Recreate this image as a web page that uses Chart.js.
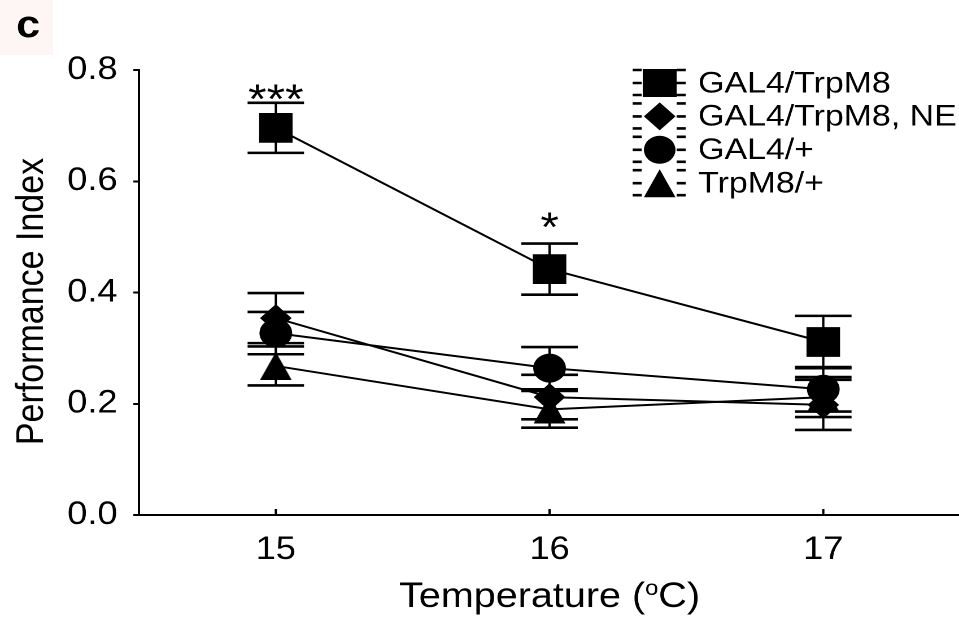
<!DOCTYPE html>
<html><head><meta charset="utf-8">
<script src="https://cdn.jsdelivr.net/npm/chart.js@4.4.1/dist/chart.umd.min.js"></script>
<style>
html,body{margin:0;padding:0;background:#fff;overflow:hidden;}
#wrap{width:959px;height:617px;overflow:hidden;position:relative;background:#fff;}
#c{position:absolute;left:0;top:0;transform-origin:0 0;transform:scaleX(1.1296);}
</style></head><body>
<div id="wrap"><canvas id="c" width="871" height="617"></canvas></div>
<script>
// ---- data ----
const temperatures = ['15', '16', '17'];
const seriesNames = ['GAL4/TrpM8', 'GAL4/TrpM8, NE', 'GAL4/+', 'TrpM8/+'];
const gal4TrpM8 = [0.696, 0.442, 0.311];
const gal4TrpM8Err = [0.045, 0.046, 0.047];
const gal4TrpM8NE = [0.354, 0.212, 0.198];
const gal4TrpM8NEErr = [0.045, 0.040, 0.045];
const gal4Plus = [0.327, 0.264, 0.226];
const gal4PlusErr = [0.038, 0.038, 0.040];
const trpM8Plus = [0.268, 0.190, 0.212];
const trpM8PlusErr = [0.035, 0.033, 0.036];
const yTicks = [0.0, 0.2, 0.4, 0.6, 0.8];
const sigMarks = ['***', '*', ''];
const sigLevels = [0.722, 0.492, 0];
const xTitle = ['Temperature (', 'o', 'C)'];
const yTitle = 'Performance Index';
const panelLabel = 'c';

const FONT = "'Liberation Sans', Arial, Helvetica, sans-serif";
Chart.defaults.font.family = FONT;
Chart.defaults.color = '#000';

function makeTriangle(w, h) {
  const s = 4;
  const c = document.createElement('canvas');
  c.width = w * s; c.height = h * s;
  const g = c.getContext('2d');
  g.fillStyle = '#000';
  g.beginPath();
  g.moveTo(c.width / 2, 0);
  g.lineTo(c.width, c.height);
  g.lineTo(0, c.height);
  g.closePath();
  g.fill();
  return new Promise(res => {
    const img = new Image(w, h);
    img.onload = () => res(img);
    img.src = c.toDataURL();
  });
}

const errors = [gal4TrpM8Err, gal4TrpM8NEErr, gal4PlusErr, trpM8PlusErr];

const extras = {
  id: 'extras',
  beforeDatasetsDraw(chart) {
    const ctx = chart.ctx, xs = chart.scales.x, ys = chart.scales.y;
    ctx.save();
    ctx.strokeStyle = '#000';
    chart.data.datasets.forEach((ds, di) => {
      ds.data.forEach((v, i) => {
        const e = errors[di][i];
        const x = xs.getPixelForValue(i);
        const yt = ys.getPixelForValue(v + e), yb = ys.getPixelForValue(v - e);
        ctx.lineWidth = 2;
        ctx.beginPath(); ctx.moveTo(x, yt); ctx.lineTo(x, yb); ctx.stroke();
        ctx.lineWidth = 2.6;
        ctx.beginPath();
        ctx.moveTo(x - 25, yt); ctx.lineTo(x + 25, yt);
        ctx.moveTo(x - 25, yb); ctx.lineTo(x + 25, yb);
        ctx.stroke();
      });
    });
    ctx.restore();
  },
  afterDatasetsDraw(chart) {
    const ctx = chart.ctx, xs = chart.scales.x, ys = chart.scales.y;
    ctx.save();
    // inward x ticks
    ctx.strokeStyle = '#000'; ctx.lineWidth = 2;
    temperatures.forEach((t, i) => {
      const x = xs.getPixelForValue(i);
      ctx.beginPath(); ctx.moveTo(x, ys.bottom); ctx.lineTo(x, ys.bottom - 6); ctx.stroke();
    });
    // significance marks
    ctx.fillStyle = '#000';
    ctx.font = '42px ' + FONT;
    ctx.textAlign = 'center'; ctx.textBaseline = 'alphabetic';
    sigMarks.forEach((m, i) => {
      if (!m) return;
      ctx.fillText(m, xs.getPixelForValue(i), ys.getPixelForValue(sigLevels[i]));
    });
    ctx.restore();
  },
  afterDraw(chart) {
    const ctx = chart.ctx, xs = chart.scales.x, ys = chart.scales.y;
    ctx.save();
    // panel label
    ctx.fillStyle = '#fdf6f4';
    ctx.fillRect(0, 0, 47, 55);
    ctx.fillStyle = '#000';
    ctx.font = 'bold 38px ' + FONT;
    ctx.textAlign = 'center'; ctx.textBaseline = 'alphabetic';
    ctx.fillText(panelLabel, 25, 37);
    // y title
    ctx.save();
    ctx.translate(38, (ys.top + ys.bottom) / 2 + 9);
    ctx.rotate(-Math.PI / 2);
    ctx.font = '34px ' + FONT;
    ctx.textAlign = 'center'; ctx.textBaseline = 'alphabetic';
    ctx.fillText(yTitle, 0, 0);
    ctx.restore();
    // x title with superscript
    ctx.font = '35px ' + FONT;
    const w1 = ctx.measureText(xTitle[0]).width;
    const w3 = ctx.measureText(xTitle[2]).width;
    ctx.font = '21px ' + FONT;
    const w2 = ctx.measureText(xTitle[1]).width;
    const total = w1 + w2 + w3;
    const cx = (xs.left + xs.right) / 2;
    let x0 = cx - total / 2;
    const base = 607;
    ctx.textAlign = 'left';
    ctx.font = '35px ' + FONT;
    ctx.fillText(xTitle[0], x0, base);
    ctx.font = '21px ' + FONT;
    ctx.fillText(xTitle[1], x0 + w1, base - 12);
    ctx.font = '35px ' + FONT;
    ctx.fillText(xTitle[2], x0 + w1 + w2, base);
    // legend
    const lx = 584, ly0 = 83, step = 33.4;
    ctx.font = '30px ' + FONT;
    ctx.textBaseline = 'middle';
    seriesNames.forEach((name, i) => {
      const y = ly0 + i * step;
      ctx.strokeStyle = '#000'; ctx.lineWidth = 2.6;
      ctx.beginPath();
      [-13, 0, 12].forEach(dy => {
        ctx.moveTo(560, y + dy); ctx.lineTo(568, y + dy);
        ctx.moveTo(599, y + dy); ctx.lineTo(607, y + dy);
      });
      ctx.stroke();
      ctx.fillStyle = '#000';
      ctx.beginPath();
      if (i === 0) {
        ctx.rect(lx - 15, y - 14, 30, 28);
      } else if (i === 1) {
        ctx.moveTo(lx - 14, y); ctx.lineTo(lx, y - 14); ctx.lineTo(lx + 14, y); ctx.lineTo(lx, y + 14); ctx.closePath();
      } else if (i === 2) {
        ctx.arc(lx, y, 14, 0, Math.PI * 2);
      } else {
        ctx.moveTo(lx, y - 14); ctx.lineTo(lx + 14, y + 14); ctx.lineTo(lx - 14, y + 14); ctx.closePath();
      }
      ctx.fill();
      ctx.fillText(name, 618, y + 1);
    });
    ctx.restore();
  }
};

makeTriangle(28, 28).then(tri => {
  const common = {borderColor: '#000', backgroundColor: '#000', borderWidth: 2, tension: 0,
    pointBackgroundColor: '#000', pointBorderColor: '#000', pointBorderWidth: 0, fill: false};
  new Chart(document.getElementById('c'), {
    type: 'line',
    data: {
      labels: temperatures,
      datasets: [
        Object.assign({label: seriesNames[0], data: gal4TrpM8, pointStyle: 'rect', pointRadius: 21, order: 3}, common),
        Object.assign({label: seriesNames[1], data: gal4TrpM8NE, pointStyle: 'rectRot', pointRadius: 14, order: 2}, common),
        Object.assign({label: seriesNames[2], data: gal4Plus, pointStyle: 'circle', pointRadius: 14.5, order: 1}, common),
        Object.assign({label: seriesNames[3], data: trpM8Plus, pointStyle: tri, pointRadius: 14, order: 0}, common)
      ]
    },
    options: {
      responsive: false,
      devicePixelRatio: 2,
      animation: false,
      events: [],
      layout: {padding: {top: 70, right: 0, bottom: 0, left: 0}},
      plugins: {legend: {display: false}, tooltip: {enabled: false}},
      scales: {
        x: {
          type: 'category',
          offset: true,
          grid: {display: false},
          border: {display: true, color: '#000', width: 2},
          ticks: {font: {size: 32}, color: '#000', padding: 8, maxRotation: 0},
          afterFit: s => { s.height = 102; s.paddingLeft = 0; s.paddingRight = 0; }
        },
        y: {
          type: 'linear',
          min: 0, max: 0.8,
          afterBuildTicks: s => { s.ticks = yTicks.map(v => ({value: v})); },
          grid: {display: true, drawOnChartArea: false, drawTicks: true, tickLength: 5, color: '#000', lineWidth: 2},
          border: {display: true, color: '#000', width: 2},
          ticks: {font: {size: 32}, color: '#000', padding: 14, callback: v => Number(v).toFixed(1)},
          afterFit: s => { s.width = 123; s.paddingTop = 0; s.paddingBottom = 0; }
        }
      }
    },
    plugins: [extras]
  });
});
</script>
</body></html>
